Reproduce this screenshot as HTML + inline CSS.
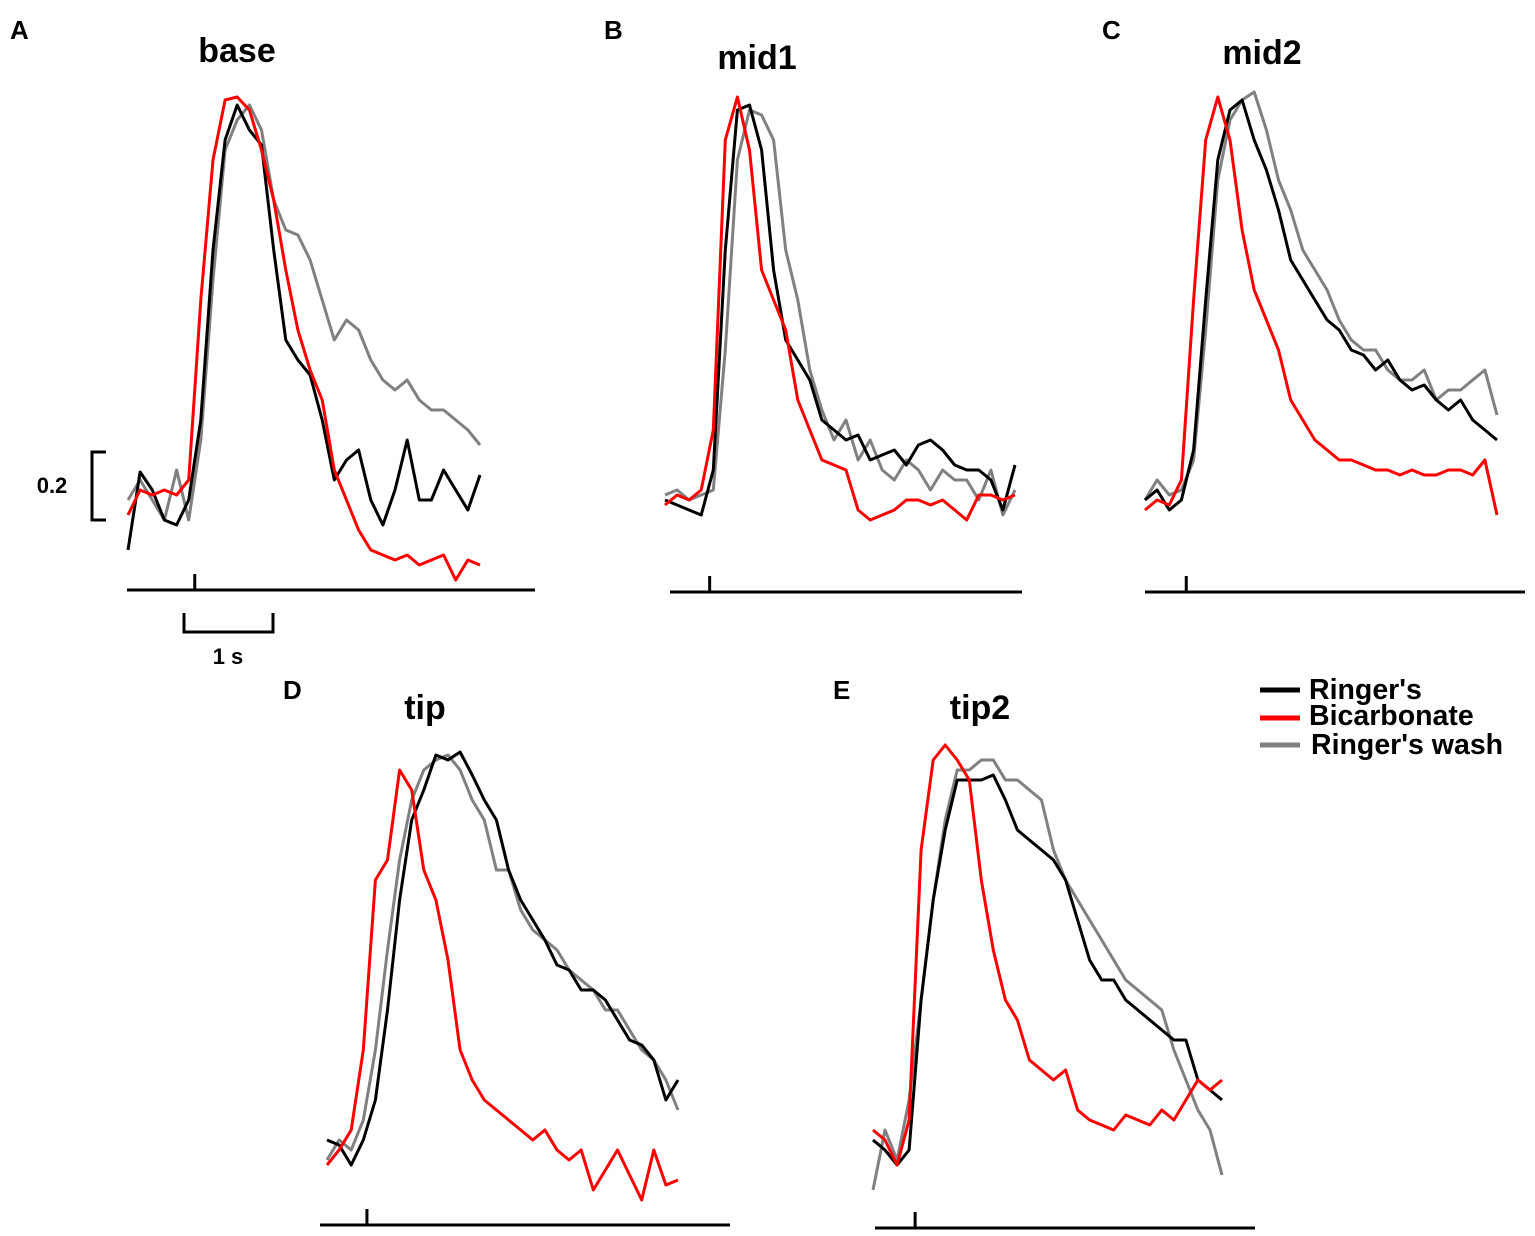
<!DOCTYPE html>
<html><head><meta charset="utf-8">
<style>
html,body{margin:0;padding:0;background:#fff;}
svg{display:block;font-family:"Liberation Sans",Arial,sans-serif;}
.pl{font-weight:bold;font-size:26px;}
.tt{font-weight:bold;font-size:34px;}
.lg{font-weight:bold;font-size:28.5px;}
</style></head>
<body>
<svg id="fig" width="1535" height="1236" viewBox="0 0 1535 1236">
  <g>
    <text class="pl" x="10" y="39">A</text>
    <text class="pl" x="604" y="39">B</text>
    <text class="pl" x="1102" y="39">C</text>
    <text class="pl" x="283" y="699">D</text>
    <text class="pl" x="833" y="699">E</text>
  </g>
  <g text-anchor="middle">
    <text class="tt" x="237" y="62">base</text>
    <text class="tt" x="757" y="69">mid1</text>
    <text class="tt" x="1262" y="64">mid2</text>
    <text class="tt" x="425" y="719">tip</text>
    <text class="tt" x="980" y="719">tip2</text>
  </g>
  <g fill="none" stroke="#000" stroke-width="3">
    <polyline points="106,452 92,452 92,520 106,520"/>
  </g>
  <text x="52" y="493" font-size="22" font-weight="bold" text-anchor="middle">0.2</text>
  <g fill="none" stroke="#000" stroke-width="3">
    <polyline points="184,613 184,632 273,632 273,613"/>
  </g>
  <text x="228" y="664" font-size="22" font-weight="bold" text-anchor="middle">1 s</text>
  <g>
    <line x1="1260" y1="690" x2="1300" y2="690" stroke="#000" stroke-width="5"/>
    <text class="lg" x="1309" y="699">Ringer's</text>
    <line x1="1260" y1="718" x2="1300" y2="718" stroke="#f00" stroke-width="5"/>
    <text class="lg" x="1309" y="725">Bicarbonate</text>
    <line x1="1260" y1="745" x2="1300" y2="745" stroke="#808080" stroke-width="5"/>
    <text class="lg" x="1311" y="754">Ringer's wash</text>
  </g>
</svg>
<script>
// Response amplitude above baseline (a.u.; 68 a.u. = 0.2 scale bar), 30 samples per trace
const aBlack=[-40,38,20,-10,-15,10,90,260,370,405,380,365,260,170,150,135,90,30,50,60,10,-15,20,70,10,10,40,20,0,35];
const aRed=[-5,20,15,20,15,30,210,350,410,413,400,360,310,240,180,140,110,40,10,-20,-40,-45,-50,-45,-55,-50,-45,-70,-50,-55];
const aGray=[10,30,10,-10,40,-10,70,230,360,390,405,380,310,280,275,250,210,170,190,180,150,130,120,130,110,100,100,90,80,65];
const bBlack=[10,5,0,-5,40,260,400,405,360,240,170,150,130,90,80,70,75,50,55,60,45,65,70,60,45,40,40,30,0,45];
const bRed=[5,15,10,20,80,370,413,360,240,210,180,110,80,50,45,40,0,-10,-5,0,10,10,5,10,0,-10,15,15,10,15];
const bGray=[15,20,10,15,20,160,350,400,395,370,260,210,140,100,70,90,50,70,40,30,50,40,20,40,30,30,10,40,-5,20];
const cBlack=[10,20,0,10,60,210,350,400,410,370,340,300,250,230,210,190,180,160,155,140,150,130,120,125,110,100,110,90,80,70];
const cRed=[0,10,5,30,210,370,413,370,280,220,190,160,110,90,70,60,50,50,45,40,40,35,40,35,35,40,40,35,50,-5];
const cGray=[10,30,15,20,50,180,330,390,410,418,380,330,300,260,240,220,190,170,160,160,140,130,130,140,110,120,120,130,140,95];
const dBlack=[25,20,0,25,65,155,265,345,375,410,405,413,390,365,345,295,265,245,225,200,195,175,175,165,145,125,120,105,65,85];
const dRed=[0,15,35,115,285,305,395,375,295,265,205,115,85,65,55,45,35,25,35,15,5,15,-25,-5,15,-10,-35,15,-20,-15];
const dGray=[5,25,15,45,115,215,305,365,395,405,410,395,365,345,295,295,255,235,225,215,195,185,175,155,155,135,115,105,85,55];
const eBlack=[25,15,0,15,165,265,335,385,385,385,390,365,335,325,315,305,285,245,205,185,185,165,155,145,135,125,125,85,75,65];
const eRed=[35,25,0,45,315,405,420,405,385,285,215,165,145,105,95,85,95,55,45,40,35,50,45,40,55,45,65,85,75,85];
const eGray=[-25,35,5,65,165,265,345,395,395,405,405,385,385,375,365,315,285,265,245,225,205,185,175,165,155,115,85,55,35,-10];
const stimIndex=[5.5,3.7,3.4,3.3,3.5];

const NS='http://www.w3.org/2000/svg';
const svg=document.getElementById('fig');
const panels=[
 {id:'a',x0:128,x1:480,base:510,ax0:127,ax1:535,axY:590,series:[aGray,aBlack,aRed]},
 {id:'b',x0:665,x1:1015,base:510,ax0:670,ax1:1022,axY:592,series:[bGray,bBlack,bRed]},
 {id:'c',x0:1145,x1:1497,base:510,ax0:1145,ax1:1525,axY:592,series:[cGray,cBlack,cRed]},
 {id:'d',x0:327,x1:678,base:1165,ax0:320,ax1:730,axY:1225,series:[dGray,dBlack,dRed]},
 {id:'e',x0:873,x1:1222,base:1165,ax0:875,ax1:1255,axY:1228,series:[eGray,eBlack,eRed]}
];
const colors=['#808080','#000','#f00'];
const names=['ringers-wash','ringers','bicarbonate'];
panels.forEach((p,pi)=>{
  const g=document.createElementNS(NS,'g');
  
  
  svg.appendChild(g);
  const n=p.series[0].length;
  const xs=i=>p.x0+(p.x1-p.x0)*i/(n-1);
  const ys=v=>p.base-v;
  const ax=document.createElementNS(NS,'line');
  ax.setAttribute('x1',p.ax0);ax.setAttribute('x2',p.ax1);
  ax.setAttribute('y1',p.axY);ax.setAttribute('y2',p.axY);
  ax.setAttribute('stroke','#000');ax.setAttribute('stroke-width','3');
  
  
  g.appendChild(ax);
  const tk=document.createElementNS(NS,'line');
  const tx=xs(stimIndex[pi]);
  tk.setAttribute('x1',tx);tk.setAttribute('x2',tx);
  tk.setAttribute('y1',p.axY-16);tk.setAttribute('y2',p.axY);
  tk.setAttribute('stroke','#000');tk.setAttribute('stroke-width','3');
  
  
  g.appendChild(tk);
  p.series.forEach((s,si)=>{
    const pl=document.createElementNS(NS,'polyline');
    pl.setAttribute('points',s.map((v,i)=>xs(i).toFixed(1)+','+ys(v).toFixed(1)).join(' '));
    pl.setAttribute('fill','none');
    pl.setAttribute('stroke',colors[si]);
    pl.setAttribute('stroke-width','3');
    pl.setAttribute('stroke-linejoin','round');
    
    
    g.appendChild(pl);
  });
});
</script>
</body></html>
